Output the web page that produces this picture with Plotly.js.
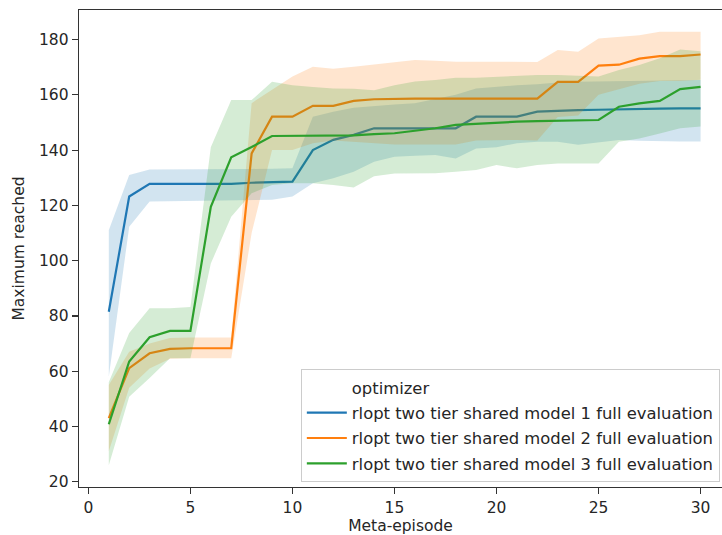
<!DOCTYPE html>
<html>
<head>
<meta charset="utf-8">
<script src="https://cdn.plot.ly/plotly-3.0.1.min.js"></script>
<style>html,body{margin:0;padding:0;background:#fff;} #chart{width:722px;height:535px;}</style>
</head>
<body>
<div id="chart"></div>
<script>
const episodes = [1,2,3,4,5,6,7,8,9,10,11,12,13,14,15,16,17,18,19,20,21,22,23,24,25,26,27,28,29,30];
const seriesNames = [
  "rlopt two tier shared model 1 full evaluation",
  "rlopt two tier shared model 2 full evaluation",
  "rlopt two tier shared model 3 full evaluation"
];
const legendTitle = "optimizer";

const m1Mean = [81.5,123.2,127.8,127.8,127.8,127.8,127.8,128.2,128.4,128.6,140,143.7,145.5,147.9,147.9,147.9,147.9,147.9,152.1,152.1,152.1,153.9,154.3,154.5,154.6,154.8,154.9,155,155.1,155.1];
const m1Lo   = [58,112.3,121.4,121.5,121.5,121.6,121.7,121.8,122,123.2,128,129.8,132.2,135.8,137.6,138,138.2,137,140.6,141,142.5,143,143,141.9,142.8,143.7,143.4,143.2,143.1,143.1];
const m1Hi   = [111,131,133,133,133,133,133.2,133.2,133.3,133.4,152.1,153.9,155.3,156,156.5,157,158.5,160,162.3,163,163.5,163.8,164.5,164.7,164.8,165,165,165.2,165.3,165.4];

const m2Mean = [43,61.1,66.5,68.1,68.3,68.3,68.3,138.8,152.1,152.1,156,156,157.8,158.4,158.6,158.6,158.6,158.6,158.6,158.6,158.6,158.6,164.7,164.7,170.6,170.9,173.1,174,174,174.6];
const m2Lo   = [31,54,61,64.5,64.7,64.7,64.7,110,140,140,142.5,143.5,143,142.5,142,142,142,142,143.5,143.7,143.7,143.5,152,152.5,160,162,164,165,165,165.5];
const m2Hi   = [55,67,70,72,72.2,72.2,72.2,157,161.7,166.6,170.2,169.4,170.2,171,172,172.6,172.3,172,172,172,172,171.9,176.2,175.6,180.4,181,181.6,182.8,182.8,182.8];

const m3Mean = [40.8,63.5,72.3,74.6,74.6,119.5,137.4,141.1,145.1,145.1,145.1,145.1,145.3,145.8,146.1,147,147.9,149.1,149.5,150.1,150.3,150.5,150.7,150.8,150.9,155.7,156.9,157.8,162.1,162.9];
const m3Lo   = [26,50.8,57.5,64.7,64.7,99,115.9,124.4,127.4,128,128,127.4,126.5,130.5,131.5,131.6,131.6,132.2,132.8,134.6,133.4,134.6,135.2,135.2,135.2,143,144.2,146,147.9,148.5];
const m3Hi   = [56,73.8,82.8,82.8,83.2,141,158.1,158.1,164.7,163.5,162.8,162.3,162.2,161.7,163.5,164.8,165.4,166.2,166.2,166.5,166.8,167.2,167.2,166.8,166.6,169,170.8,173.2,176.4,175.8];

const yTicks = [20,40,60,80,100,120,140,160,180];
const xTicks = [0,5,10,15,20,25,30];

const colors = ["#1f77b4","#ff7f0e","#2ca02c"];
const fills = ["rgba(31,119,180,0.2)","rgba(255,127,14,0.2)","rgba(44,160,44,0.2)"];
const allSeries = [[m1Mean,m1Lo,m1Hi],[m2Mean,m2Lo,m2Hi],[m3Mean,m3Lo,m3Hi]];

const traces = [];
traces.push({x:[null], y:[null], type:"scatter", mode:"lines", name:legendTitle,
  line:{color:"rgba(0,0,0,0)", width:2}, showlegend:true, hoverinfo:"skip", legendgroup:"t"});
allSeries.forEach((s,i)=>{
  traces.push({x:episodes, y:s[1], type:"scatter", mode:"lines", line:{width:0, color:fills[i]},
    showlegend:false, hoverinfo:"skip"});
  traces.push({x:episodes, y:s[2], type:"scatter", mode:"lines", line:{width:0, color:fills[i]},
    fill:"tonexty", fillcolor:fills[i], showlegend:false, hoverinfo:"skip"});
  traces.push({x:episodes, y:s[0], type:"scatter", mode:"lines", name:seriesNames[i],
    line:{color:colors[i], width:2.2}, legendgroup:"g"+i});
});

const fontFam = "DejaVu Sans, sans-serif";
const layout = {
  width:722, height:535,
  margin:{l:79, r:0, t:10, b:48, pad:0},
  paper_bgcolor:"#fff", plot_bgcolor:"#fff",
  font:{family:fontFam, size:15.5, color:"#262626"},
  showlegend:true,
  xaxis:{range:[-0.46,31.05], tickvals:xTicks, ticks:"outside", ticklen:6, tickwidth:1.2,
    tickcolor:"#333", showline:true, linecolor:"#333", linewidth:1.3, mirror:true,
    showgrid:false, zeroline:false, tickfont:{size:15.5},
    title:{text:"Meta-episode", font:{size:15.5}, standoff:9}},
  yaxis:{range:[18.1,190.7], tickvals:yTicks, ticks:"outside", ticklen:6, tickwidth:1.2,
    tickcolor:"#333", showline:true, linecolor:"#333", linewidth:1.3, mirror:false,
    showgrid:false, zeroline:false, tickfont:{size:15.5},
    title:{text:"Maximum reached", font:{size:15.5}, standoff:10}},
  legend:{x:0.345, y:0.247, xanchor:"left", yanchor:"top",
    bgcolor:"rgba(255,255,255,0.8)", bordercolor:"#cccccc", borderwidth:1,
    font:{size:16.4, color:"#262626"}, traceorder:"grouped", tracegroupgap:1, itemwidth:40}
};
Plotly.newPlot("chart", traces, layout, {displayModeBar:false, staticPlot:true});
</script>
</body>
</html>
